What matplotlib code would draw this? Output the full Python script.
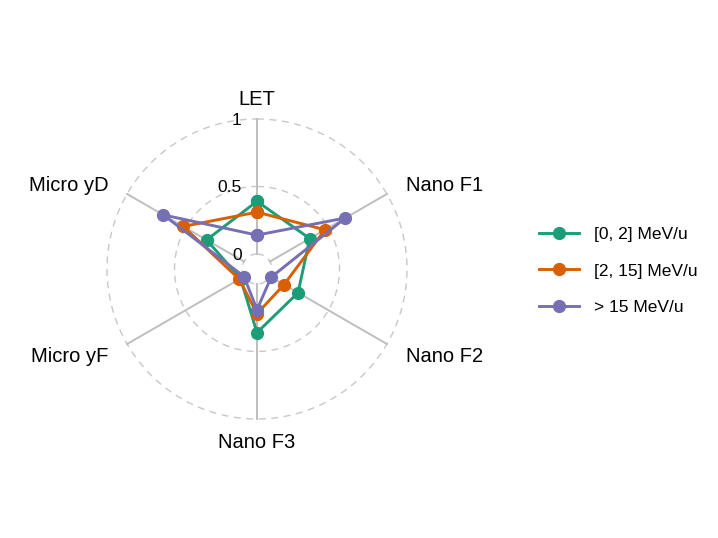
import numpy as np
import matplotlib
matplotlib.use("Agg")
import matplotlib.pyplot as plt

plt.rcParams['font.family'] = ['Liberation Sans', 'DejaVu Sans']

axes_names = ['LET', 'Nano F1', 'Nano F2', 'Nano F3', 'Micro yF', 'Micro yD']
groups = ['[0, 2] MeV/u', '[2, 15] MeV/u', '> 15 MeV/u']
low_vals = [0.39, 0.34, 0.24, 0.36, 0.03, 0.32]
mid_vals = [0.31, 0.47, 0.12, 0.22, 0.04, 0.52]
high_vals = [0.14, 0.645, 0.01, 0.19, 0.0, 0.69]
colors = ['#1B9E77', '#D95F02', '#7570B3']
grid_vals = [0, 0.5, 1]
grid_labels = ['0', '0.5', '1']

centre = -1 / 9  # value at the middle of the plot

fig = plt.figure(figsize=(7.18, 5.38), dpi=100)
ax = fig.add_axes([107 / 718, 119 / 538, 300 / 718, 300 / 538], projection='polar')
ax.set_theta_zero_location('N')
ax.set_theta_direction(-1)
ax.set_ylim(centre, 1.0)
ax.axis('off')

theta = np.linspace(0, 2 * np.pi, len(axes_names), endpoint=False)
circ = np.linspace(0, 2 * np.pi, 300)

# dashed grid circles
for g in grid_vals:
    ax.plot(circ, np.full_like(circ, g), color='#C8C8C8', lw=1.0,
            ls=(0, (5, 4)), zorder=1, clip_on=False)

# spokes
for t in theta:
    ax.plot([t, t], [0, 1], color='#BEBEBE', lw=1.4, zorder=1, clip_on=False)

# grid labels
for g, lab in zip(grid_vals, grid_labels):
    ax.annotate(lab, xy=(0, g), xytext=(-11, 0), textcoords='offset points',
                ha='right', va='center_baseline', fontsize=12.5, color='black')

# axis labels
for t, name in zip(theta, axes_names):
    s = np.sin(t)
    if abs(s) < 1e-6:
        ha = 'center'
    elif s > 0:
        ha = 'left'
    else:
        ha = 'right'
    ax.text(t, 1.16, name, ha=ha, va='center_baseline', fontsize=14.5,
            clip_on=False)

# series
for vals, col, lab in zip([low_vals, mid_vals, high_vals], colors, groups):
    th = np.append(theta, theta[0])
    v = np.append(vals, vals[0])
    ax.plot(th, v, color=col, lw=2.1, marker='o', ms=8.5, label=lab,
            zorder=3, clip_on=False)

fig.legend(loc='center left', bbox_to_anchor=(523 / 718, 1 - 271 / 538),
           frameon=False, fontsize=12.5, handlelength=2.35, labelspacing=1.24,
           handletextpad=0.82)

fig.savefig('out.png', dpi=100)
